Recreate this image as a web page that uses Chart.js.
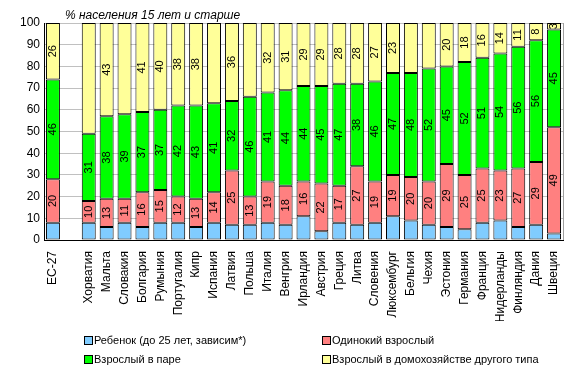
<!DOCTYPE html>
<html>
<head>
<meta charset="utf-8">
<script src="https://cdn.jsdelivr.net/npm/chart.js@4/dist/chart.umd.min.js"></script>
<style>
  html, body { margin: 0; padding: 0; background: #fff; }
  #wrap { position: relative; width: 577px; height: 372px; }
  .legend { position: absolute; font: 11px "Liberation Sans", Arial, sans-serif; color: #000; white-space: nowrap; }
  .legend span.box { display: inline-block; width: 7px; height: 7px; border: 1px solid #000; margin-right: 1px; vertical-align: -1px; }
</style>
</head>
<body>
<div id="wrap">
  <canvas id="chart" width="577" height="372"></canvas>
</div>
<script>
const categories = ['ЕС-27', '', 'Хорватия', 'Мальта', 'Словакия', 'Болгария', 'Румыния', 'Португалия', 'Кипр',
  'Испания', 'Латвия', 'Польша', 'Италия', 'Венгрия', 'Ирландия', 'Австрия', 'Греция', 'Литва', 'Словения',
  'Люксембург', 'Бельгия', 'Чехия', 'Эстония', 'Германия', 'Франция', 'Нидерланды', 'Финляндия', 'Дания', 'Швеция'];

const childValues  = [8, null, 8, 6, 8, 6, 8, 8, 6, 8, 7, 7, 8, 7, 11, 4, 8, 7, 8, 11, 9, 7, 6, 5, 8, 9, 6, 7, 3];
const singleValues = [20, null, 10, 13, 11, 16, 15, 12, 13, 14, 25, 13, 19, 18, 16, 22, 17, 27, 19, 19, 20, 20, 29, 25, 25, 23, 27, 29, 49];
const coupleValues = [46, null, 31, 38, 39, 37, 37, 42, 43, 41, 32, 46, 41, 44, 44, 45, 47, 38, 46, 47, 48, 52, 45, 52, 51, 54, 56, 56, 45];
const otherValues  = [26, null, 51, 43, 42, 41, 40, 38, 38, 37, 36, 34, 32, 31, 29, 29, 28, 28, 27, 23, 23, 21, 20, 18, 16, 14, 11, 8, 3];

// yellow segments that carry no number in the original
const unlabelledOther = ['Хорватия', 'Словакия', 'Испания', 'Польша', 'Бельгия', 'Чехия'];

const yTicks = [0, 10, 20, 30, 40, 50, 60, 70, 80, 90, 100];

const SERIES = [
  { label: 'Ребенок (до 25 лет, зависим*)', data: childValues, color: '#80CCFF' },
  { label: 'Одинокий взрослый', data: singleValues, color: '#FF8080' },
  { label: 'Взрослый в паре', data: coupleValues, color: '#00FF00' },
  { label: 'Взрослый в домохозяйстве другого типа', data: otherValues, color: '#FFFF99' }
];

const FONT = '"Liberation Sans", Arial, sans-serif';

const segmentLabels = {
  id: 'segmentLabels',
  afterDatasetsDraw(chart) {
    const ctx = chart.ctx;
    const area = chart.chartArea;
    ctx.save();
    // thin grey frame on the right side of the plot
    ctx.strokeStyle = '#A0A0A0';
    ctx.lineWidth = 1;
    ctx.beginPath();
    ctx.moveTo(Math.round(area.right) + 0.5, area.top);
    ctx.lineTo(Math.round(area.right) + 0.5, area.bottom);
    ctx.stroke();

    ctx.fillStyle = '#000';
    ctx.font = '11px ' + FONT;
    ctx.textAlign = 'center';
    ctx.textBaseline = 'middle';
    for (let d = 1; d < chart.data.datasets.length; d++) {
      const meta = chart.getDatasetMeta(d);
      const values = chart.data.datasets[d].data;
      meta.data.forEach((bar, i) => {
        const v = values[i];
        if (v == null) return;
        if (d === 3 && unlabelledOther.includes(categories[i])) return;
        const cy = (bar.y + bar.base) / 2;
        ctx.save();
        ctx.translate(bar.x, cy);
        ctx.rotate(-Math.PI / 2);
        ctx.fillText(String(v), 0, 0);
        ctx.restore();
      });
    }

    ctx.font = 'italic 12px ' + FONT;
    ctx.textAlign = 'left';
    ctx.textBaseline = 'alphabetic';
    ctx.fillText('% населения 15 лет и старше', area.left + 21, 19);
    ctx.restore();
  }
};

new Chart(document.getElementById('chart'), {
  type: 'bar',
  data: {
    labels: categories,
    datasets: SERIES.map(s => ({
      label: s.label,
      data: s.data,
      backgroundColor: s.color,
      borderColor: '#000',
      borderWidth: 1,
      borderSkipped: false,
      barPercentage: 0.78,
      categoryPercentage: 1
    }))
  },
  options: {
    responsive: false,
    animation: false,
    layout: { padding: { top: 23, right: 14, bottom: 51, left: 0 } },
    scales: {
      x: {
        stacked: true,
        grid: { display: false },
        border: { color: '#000', width: 1 },
        ticks: {
          color: '#000',
          font: { family: FONT, size: 12 },
          minRotation: 90,
          maxRotation: 90,
          autoSkip: false,
          padding: 3
        },
        afterFit(scale) { scale.height = 81; }
      },
      y: {
        stacked: true,
        min: 0,
        max: 100,
        afterBuildTicks(scale) { scale.ticks = yTicks.map(v => ({ value: v })); },
        grid: { color: '#C0C0C0', drawTicks: false },
        border: { color: '#000', width: 1 },
        ticks: { color: '#000', font: { family: FONT, size: 12 }, padding: 4 },
        afterFit(scale) { scale.width = 44; }
      }
    },
    plugins: {
      legend: { display: false },
      tooltip: { enabled: false }
    }
  },
  plugins: [segmentLabels]
});

// 2x2 legend under the chart
const wrap = document.getElementById('wrap');
const legendPos = [[84, 334], [322, 334], [84, 353], [322, 353]];
SERIES.forEach((s, i) => {
  const el = document.createElement('div');
  el.className = 'legend';
  el.style.left = legendPos[i][0] + 'px';
  el.style.top = legendPos[i][1] + 'px';
  el.innerHTML = '<span class="box" style="background:' + s.color + '"></span>' + s.label;
  wrap.appendChild(el);
});
</script>
</body>
</html>
